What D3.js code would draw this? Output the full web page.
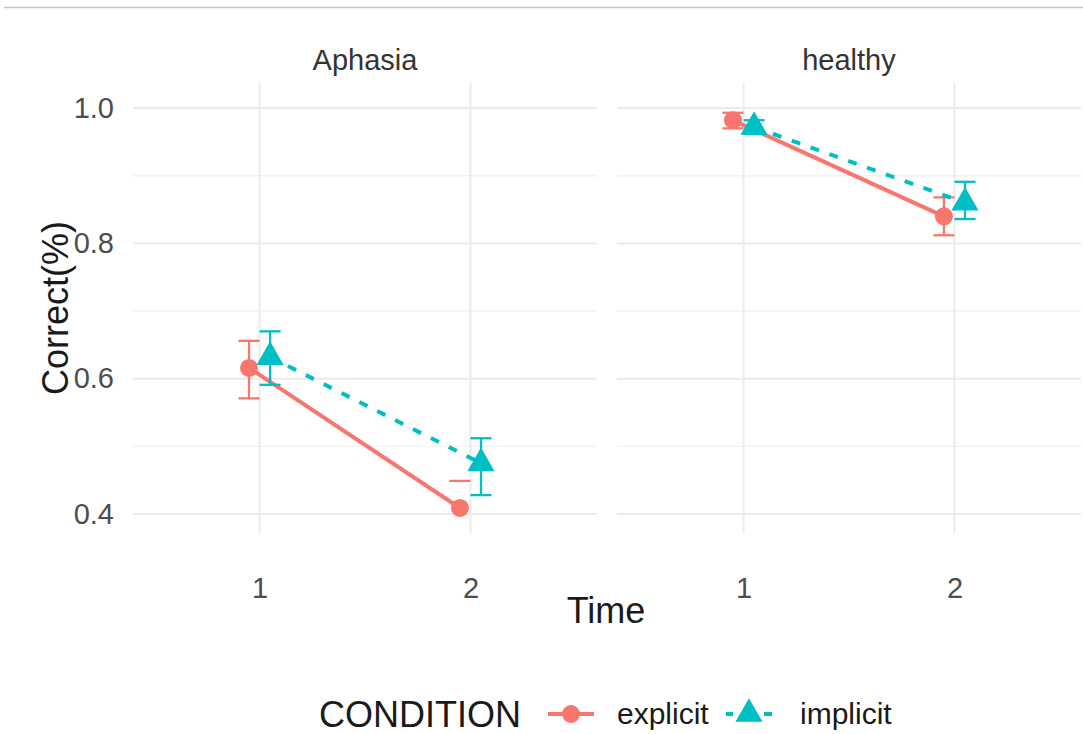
<!DOCTYPE html>
<html>
<head>
  <meta charset="utf-8">
  <title>Correct by Time, Condition and Group</title>
  <script src="https://d3js.org/d3.v7.min.js"></script>
  <style>
    body { margin: 0; background: #fff; }
    svg text { font-family: "Liberation Sans", Arial, sans-serif; }
  </style>
</head>
<body>
<svg id="chart" width="1083" height="734"></svg>
<script>

// Data
const groups = ["Aphasia", "healthy"];
const conditions = ["explicit", "implicit"];
const times = [1, 2];
const yTicks = [0.4, 0.6, 0.8, 1.0];
const yMinor = [0.5, 0.7, 0.9];

// mean, upper and lower end of the error bar, per time
const aphasiaExplicit   = [0.616, 0.409];
const aphasiaExplicitHi = [0.656, 0.449];
const aphasiaExplicitLo = [0.571, null];
const aphasiaImplicit   = [0.632, 0.475];
const aphasiaImplicitHi = [0.670, 0.512];
const aphasiaImplicitLo = [0.591, 0.428];
const healthyExplicit   = [0.982, 0.840];
const healthyExplicitHi = [0.993, 0.868];
const healthyExplicitLo = [0.970, 0.812];
const healthyImplicit   = [0.972, 0.860];
const healthyImplicitHi = [0.982, 0.891];
const healthyImplicitLo = [0.962, 0.836];

const series = {
  Aphasia: {
    explicit: [aphasiaExplicit, aphasiaExplicitHi, aphasiaExplicitLo],
    implicit: [aphasiaImplicit, aphasiaImplicitHi, aphasiaImplicitLo]
  },
  healthy: {
    explicit: [healthyExplicit, healthyExplicitHi, healthyExplicitLo],
    implicit: [healthyImplicit, healthyImplicitHi, healthyImplicitLo]
  }
};

const color = d3.scaleOrdinal().domain(conditions).range(["#F8766D", "#00BFC4"]);
const dodge = d3.scaleOrdinal().domain(conditions).range([-0.05, 0.05]);

const svg = d3.select("#chart");

// thin frame line at the top of the screenshot
svg.append("line")
  .attr("x1", 4).attr("x2", 1083).attr("y1", 7.5).attr("y2", 7.5)
  .attr("stroke", "#c4c4c4").attr("stroke-width", 1.5);

// Panel layout
const panelTop = 83, panelBottom = 533;
const panelLeft = [133, 617], panelWidth = 464;

const y = d3.scaleLinear()
  .domain([0.372, 1.037])
  .range([panelBottom, panelTop]);

const triangle = d3.symbol().type(d3.symbolTriangle).size(320);

groups.forEach(function(g, gi) {
  const x = d3.scaleLinear()
    .domain([0.4, 2.6])
    .range([panelLeft[gi], panelLeft[gi] + panelWidth]);

  const panel = svg.append("g");

  // minor grid
  panel.selectAll(".minor")
    .data(yMinor)
    .join("line")
      .attr("x1", x.range()[0]).attr("x2", x.range()[1])
      .attr("y1", d => y(d)).attr("y2", d => y(d))
      .attr("stroke", "#f2f2f2").attr("stroke-width", 1.4);

  // major grid
  panel.selectAll(".hmajor")
    .data(yTicks)
    .join("line")
      .attr("x1", x.range()[0]).attr("x2", x.range()[1])
      .attr("y1", d => y(d)).attr("y2", d => y(d))
      .attr("stroke", "#ebebeb").attr("stroke-width", 2);

  panel.selectAll(".vmajor")
    .data(times)
    .join("line")
      .attr("x1", d => x(d)).attr("x2", d => x(d))
      .attr("y1", panelTop).attr("y2", panelBottom)
      .attr("stroke", "#ebebeb").attr("stroke-width", 2);

  // strip title
  panel.append("text")
    .attr("x", x.range()[0] + panelWidth / 2)
    .attr("y", 70)
    .attr("text-anchor", "middle")
    .style("font-size", "29px")
    .style("fill", "#333")
    .text(g);

  // x tick labels
  panel.append("g")
    .attr("transform", `translate(0, ${panelBottom})`)
    .call(d3.axisBottom(x).tickValues(times).tickFormat(d3.format("d")).tickSize(0).tickPadding(44))
    .call(a => a.select(".domain").remove())
    .selectAll("text")
      .style("font-size", "29px")
      .style("font-family", "'Liberation Sans', Arial, sans-serif")
      .style("fill", "#4d4d4d");

  // error bars, lines and points
  conditions.forEach(function(c) {
    const s = series[g][c];
    const rows = times.map((t, i) => ({ t: t, mean: s[0][i], hi: s[1][i], lo: s[2][i] }));
    const px = d => x(d.t + dodge(c));

    // error bars
    const eb = panel.append("g")
      .attr("stroke", color(c)).attr("stroke-width", 2.3).attr("fill", "none");
    rows.forEach(function(d) {
      const cx = px(d), half = x(0.05) - x(0);
      if (d.lo != null) {
        eb.append("line").attr("x1", cx).attr("x2", cx).attr("y1", y(d.hi)).attr("y2", y(d.lo));
        eb.append("line").attr("x1", cx - half).attr("x2", cx + half).attr("y1", y(d.lo)).attr("y2", y(d.lo));
      }
      eb.append("line").attr("x1", cx - half).attr("x2", cx + half).attr("y1", y(d.hi)).attr("y2", y(d.hi));
    });

    // connecting line
    panel.append("path")
      .datum(rows)
      .attr("fill", "none")
      .attr("stroke", color(c))
      .attr("stroke-width", 4)
      .attr("stroke-dasharray", c === "implicit" ? "9,11" : null)
      .attr("d", d3.line().x(px).y(d => y(d.mean)));

    // points
    if (c === "explicit") {
      panel.selectAll(null)
        .data(rows)
        .join("circle")
          .attr("cx", px).attr("cy", d => y(d.mean))
          .attr("r", 9)
          .attr("fill", color(c));
    } else {
      panel.selectAll(null)
        .data(rows)
        .join("path")
          .attr("transform", d => `translate(${px(d)}, ${y(d.mean)})`)
          .attr("d", triangle)
          .attr("fill", color(c));
    }
  });
});

// y axis labels
svg.append("g")
  .attr("transform", `translate(114, 0)`)
  .call(d3.axisLeft(y).tickValues(yTicks).tickFormat(d3.format(".1f")).tickSize(0).tickPadding(0))
  .call(a => a.select(".domain").remove())
  .selectAll("text")
    .style("font-size", "29px")
    .style("font-family", "'Liberation Sans', Arial, sans-serif")
    .style("fill", "#4d4d4d");

// axis titles
svg.append("text")
  .attr("transform", `translate(68, ${(panelTop + panelBottom) / 2}) rotate(-90)`)
  .attr("text-anchor", "middle")
  .style("font-size", "36px")
  .style("fill", "#1a1a1a")
  .text("Correct(%)");

svg.append("text")
  .attr("x", 606)
  .attr("y", 623)
  .attr("text-anchor", "middle")
  .style("font-size", "36px")
  .style("fill", "#1a1a1a")
  .text("Time");

// legend
const legendY = 714;
const legend = svg.append("g");
legend.append("text")
  .attr("x", 319).attr("y", legendY + 13)
  .style("font-size", "36px")
  .style("fill", "#1a1a1a")
  .text("CONDITION");

const keyX = d3.scaleOrdinal().domain(conditions).range([571, 749]);
const labelX = d3.scaleOrdinal().domain(conditions).range([617, 800]);

conditions.forEach(function(c) {
  const kx = keyX(c);
  legend.append("line")
    .attr("x1", kx - 23).attr("x2", kx + 23)
    .attr("y1", legendY).attr("y2", legendY)
    .attr("stroke", color(c)).attr("stroke-width", 4)
    .attr("stroke-dasharray", c === "implicit" ? "9,11" : null)
    .attr("stroke-dashoffset", c === "implicit" ? 2 : null);
  if (c === "explicit") {
    legend.append("circle").attr("cx", kx).attr("cy", legendY).attr("r", 9).attr("fill", color(c));
  } else {
    legend.append("path")
      .attr("transform", `translate(${kx}, ${legendY})`)
      .attr("d", triangle)
      .attr("fill", color(c));
  }
  legend.append("text")
    .attr("x", labelX(c)).attr("y", legendY + 10)
    .style("font-size", "30px")
    .style("fill", "#1a1a1a")
    .text(c);
});

</script>
</body>
</html>
